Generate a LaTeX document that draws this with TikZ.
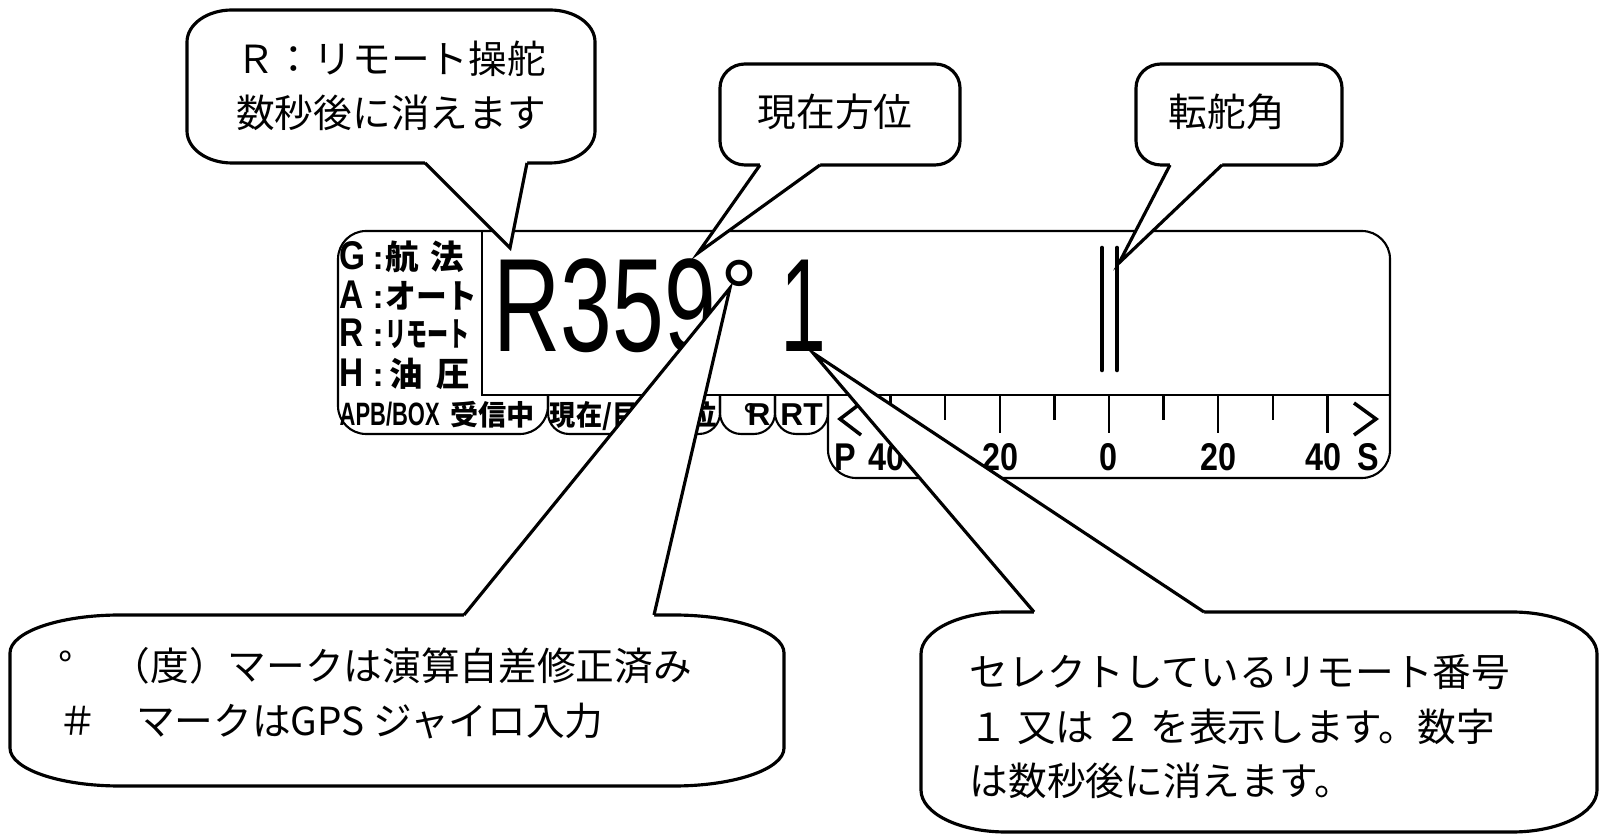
\documentclass[tikz,border=0pt]{standalone}
\usepackage{fontspec}
\setmainfont{Liberation Sans}
\newfontfamily\jpfont{Noto Sans CJK JP}

% balloon body: left, top, right, bottom, corner x radius, corner y radius
\newcommand{\bubblebox}[6]{%
  \draw[bubble] ({#1},{#2+#6})
    arc[start angle=180, end angle=270, x radius=#5, y radius=#6]
    -- ({#3-#5},{#2})
    arc[start angle=270, end angle=360, x radius=#5, y radius=#6]
    -- ({#3},{#4-#6})
    arc[start angle=0, end angle=90, x radius=#5, y radius=#6]
    -- ({#1+#5},{#4})
    arc[start angle=90, end angle=180, x radius=#5, y radius=#6]
    -- cycle;}
% balloon pointer: base, tip, base, shift into the balloon
\newcommand{\bubbletail}[4]{%
  \fill[white] (#1) -- (#2) -- (#3) -- ([yshift=#4]#3) -- ([yshift=#4]#1) -- cycle;
  \draw[tail] (#1) -- (#2) -- (#3);}
% tall mode letter
\newcommand{\modeletter}[1]{\scalebox{1}[1.2]{#1}}

\begin{document}
\begin{tikzpicture}[x=0.01cm, y=-0.01cm]
        \tikzset{panel/.style={line width=0.6pt}}
        \tikzset{bubble/.style={draw, fill=white, line width=0.9pt}}
        \tikzset{tail/.style={line width=0.9pt}}
        \tikzset{tick/.style={line width=0.7pt}}
        \tikzset{chev/.style={line width=1pt}}
        \tikzset{rudder/.style={line width=1.3pt, line cap=round}}
        \tikzset{hdg/.style={inner sep=0pt, font=\fontsize{37.8pt}{40pt}\selectfont}}
        \tikzset{mode/.style={anchor=base west, inner sep=0pt,
            font=\bfseries\fontsize{9.5pt}{11pt}\selectfont}}
        \tikzset{tab/.style={anchor=base, inner sep=0pt,
            font=\bfseries\fontsize{8pt}{10pt}\selectfont}}
        \tikzset{scalelbl/.style={anchor=base, inner sep=0pt,
            font=\bfseries\fontsize{10pt}{12pt}\selectfont}}
        \tikzset{note/.style={inner sep=0pt,
            font=\jpfont\fontsize{11pt}{15.5pt}\selectfont}}

        \useasboundingbox (0,0) rectangle (1600,834);

        % display frame
        \draw[panel, rounded corners=8] (548,395) -- (548,434) -- (338,434)
          -- (338,231) -- (1390,231) -- (1390,478) -- (828,478) -- (828,395);
        \draw[panel] (482,231) -- (482,395) -- (1390,395);
        \foreach \a/\b in {548/720, 720/775, 775/828}
          \draw[panel, rounded corners=6] (\a,395) -- (\a,434) -- (\b,434) -- (\b,395);

        % mode list
        \node[mode] (modeG) at (339,270) {\modeletter{G}\kern2pt:\kern0.5pt{\jpfont 航\kern3.4pt 法}};
        \node[mode] (modeA) at (339,309) {\modeletter{A}\kern2.5pt:\kern0.5pt{\jpfont\scalebox{0.92}[1]{オート}}};
        \node[mode] (modeR) at (339,347) {\modeletter{R}\kern2.5pt:\kern0.5pt{\jpfont\scalebox{0.63}[1]{リモート}}};
        \node[mode] (modeH) at (339,387) {\modeletter{H}\kern2.5pt:\kern1.5pt{\jpfont 油\kern4pt 圧}};

        % tabs
        \node[tab, anchor=base west] (apb) at (339,426)
          {\scalebox{0.78}[1.15]{APB/BOX}\kern3pt{\jpfont 受信中}};
        \node[tab] (hdgsel) at (633.5,426) {\scalebox{0.93}[1]{\jpfont 現在/目標方位}};
        \node[tab, font=\bfseries\fontsize{9pt}{10pt}\selectfont] (degsel) at (757,426) {°\kern-2.5pt R};
        \node[tab, font=\bfseries\fontsize{9pt}{10pt}\selectfont] (rtsel) at (801.5,426) {RT};

        % heading readout
        \node[hdg, anchor=base west] (hdg) at (493,352) {\scalebox{0.7}[1]{R359}};
        \node[anchor=base, inner sep=0pt, font=\fontsize{27pt}{29pt}\selectfont] (deg) at (739.5,327) {°};
        \node[hdg, anchor=base] (remno) at (803,352) {\scalebox{0.62}[1]{1}};

        % rudder scale
        \foreach \i in {0,...,8} {
          \pgfmathsetmacro{\tx}{890.6+54.6*\i}
          \ifodd\i \draw[tick] (\tx,395) -- (\tx,420);
          \else \draw[tick] (\tx,395) -- (\tx,433); \fi
        }
        \foreach \x/\t [count=\n] in {845/P, 886/40, 1000/20, 1108/0, 1218/20, 1323/40, 1368/S}
          \node[scalelbl] (sc\n) at (\x,470.5) {\scalebox{0.92}[1.1]{\t}};
        \draw[chev] (861,403) -- (840,419) -- (861,435);
        \draw[chev] (1354,403) -- (1376,419) -- (1354,435);
        \draw[rudder] (1102,248) -- (1102,370);
        \draw[rudder] (1117,248) -- (1117,370);

        % callouts
        \coordinate (modetip) at (510,248);
        \coordinate (modeL) at (425,163);
        \coordinate (modeR) at (527,163);
        \bubblebox{187}{10}{595}{163}{45}{32}
        \bubbletail{modeL}{modetip}{modeR}{2pt}
        \node[note, align=center] (modenote) at (391,86) {Ｒ：リモート操舵\\数秒後に消えます};

        \coordinate (hdgtip) at (698,253);
        \coordinate (hdgL) at (760,165);
        \coordinate (hdgR) at (820,165);
        \bubblebox{720}{64}{960}{165}{25}{24}
        \bubbletail{hdgL}{hdgtip}{hdgR}{2pt}
        \node[note] (hdgnote) at (835,112) {現在方位};

        \coordinate (rudtip) at (1119,263);
        \coordinate (rudL) at (1170,165);
        \coordinate (rudR) at (1222,165);
        \bubblebox{1136}{64}{1342}{165}{25}{24}
        \bubbletail{rudL}{rudtip}{rudR}{2pt}
        \node[note] (rudnote) at (1227,112) {転舵角};

        \coordinate (degtip) at (730,288);
        \coordinate (degL) at (464,615);
        \coordinate (degR) at (654,615);
        \bubblebox{10}{615}{784}{786}{110}{38}
        \bubbletail{degL}{degtip}{degR}{-2pt}
        \node[note, anchor=west, align=left] (degnote) at (58,693)
          {°　（度）マークは演算自差修正済み\\＃　マークはGPS ジャイロ入力};

        \coordinate (numtip) at (813,353);
        \coordinate (numL) at (1034,612);
        \coordinate (numR) at (1204,612);
        \bubblebox{921}{612}{1597}{832}{85}{42}
        \bubbletail{numL}{numtip}{numR}{-2pt}
        \node[note, anchor=west, align=left] (numnote) at (969,727)
          {セレクトしているリモート番号\\１ 又は ２ を表示します。数字\\は数秒後に消えます。};
\end{tikzpicture}
\end{document}
